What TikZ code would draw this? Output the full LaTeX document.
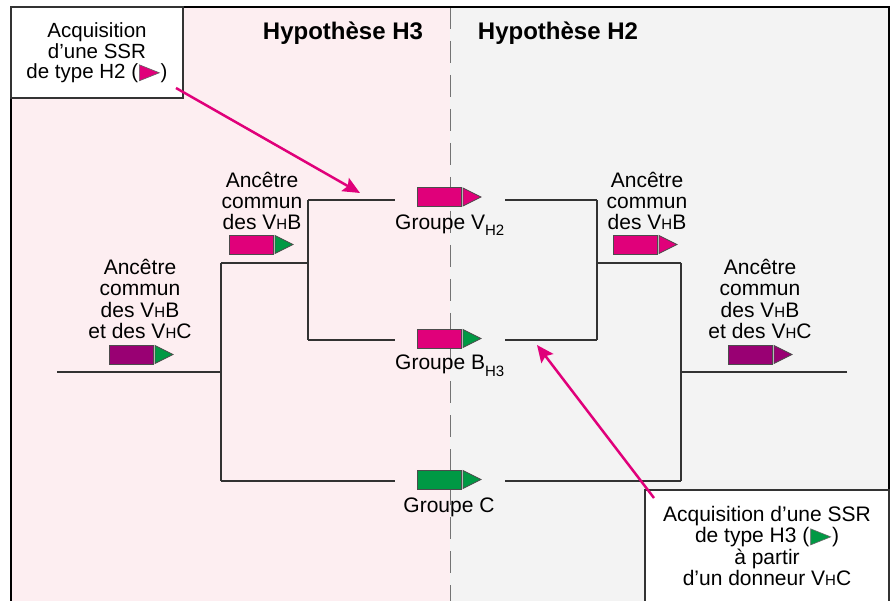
\documentclass[tikz,border=0pt]{standalone}
\usepackage{fontspec}
\setmainfont{Liberation Sans}
\usetikzlibrary{arrows.meta}
\definecolor{mag}{RGB}{224,0,122}
\definecolor{pur}{RGB}{153,0,115}
\definecolor{grn}{RGB}{0,153,68}
\definecolor{pinkbg}{RGB}{253,238,241}
\definecolor{graybg}{RGB}{243,243,243}
\definecolor{treeln}{RGB}{50,50,50}
\newcommand\smH{{\fontsize{15}{15}\selectfont H}}
\newcommand\intri[1]{\hspace{1pt}\tikz[x=1pt,y=1pt,baseline=2pt]\filldraw[fill=#1,draw=black!60,line width=0.6pt] (0,0) -- (0,16) -- (20,8) -- cycle;\hspace{1pt}}
\newcommand\gsym[4]{%
  \filldraw[fill=#3,draw=black!70,line width=0.8pt] (#1,#2-9.5) rectangle (#1+44,#2+9.5);
  \filldraw[fill=#4,draw=black!70,line width=0.8pt] (#1+46,#2-9) -- (#1+64,#2) -- (#1+46,#2+9) -- cycle;}
\tikzset{
  lbl/.style={font=\fontsize{21}{21.3}\selectfont, align=center, inner sep=0pt},
  hyp/.style={font=\fontsize{24}{24}\selectfont\bfseries, inner sep=0pt},
  tree/.style={draw=treeln, line width=1.2pt},
  frame/.style={draw=black, line width=2pt},
  infobox/.style={draw=black!80, fill=white, line width=1.5pt},
  acq/.style={draw=mag, line width=2.5pt, -{Stealth[length=17pt,width=15pt,inset=3pt]}}
}
\begin{document}
\begin{tikzpicture}[x=1pt,y=-1pt]
\useasboundingbox (0,0) rectangle (891,601);
% backgrounds
\fill[pinkbg] (11,7) rectangle (450,601);
\fill[graybg] (450,7) rectangle (889,601);
\draw[black!55, line width=1pt, dash pattern=on 22pt off 12pt] (450,7) -- (450,601);
% frame
\draw[frame] (11,601) -- (11,7) -- (889,7) -- (889,601);
% tree coordinates
\coordinate (rootL) at (57,372);
\coordinate (jL1) at (221,372);
\coordinate (jL1t) at (221,263);
\coordinate (jL1b) at (221,481);
\coordinate (jL2t) at (308,200);
\coordinate (jL2b) at (308,340);
\coordinate (endV) at (395,200);
\coordinate (endB) at (395,340);
\coordinate (endC) at (395,481);
\coordinate (rootR) at (847,372);
\coordinate (jR1t) at (681,263);
\coordinate (jR1b) at (681,481);
\coordinate (jR2t) at (597,200);
\coordinate (jR2b) at (597,340);
\coordinate (begV) at (505,200);
\coordinate (begB) at (505,340);
\coordinate (begC) at (505,481);
% left tree (H3)
\draw[tree] (rootL) -- (jL1);
\draw[tree] (jL1t) -- (jL1b);
\draw[tree] (jL1t) -- (jL2t |- jL1t);
\draw[tree] (jL2t) -- (jL2b);
\draw[tree] (jL2t) -- (endV);
\draw[tree] (jL2b) -- (endB);
\draw[tree] (jL1b) -- (endC);
% right tree (H2)
\draw[tree] (rootR) -- (jR1t |- rootR);
\draw[tree] (jR1t) -- (jR1b);
\draw[tree] (jR1t) -- (jR2t |- jR1t);
\draw[tree] (jR2t) -- (jR2b);
\draw[tree] (begV) -- (jR2t);
\draw[tree] (begB) -- (jR2b);
\draw[tree] (begC) -- (jR1b);
% gene symbols
\gsym{417}{197}{mag}{mag}
\gsym{417}{338.5}{mag}{grn}
\gsym{417}{479.5}{grn}{grn}
\gsym{229}{244.5}{mag}{grn}
\gsym{109}{354.5}{pur}{grn}
\gsym{613}{244.5}{mag}{mag}
\gsym{728}{354.5}{pur}{pur}
% titles
\node[hyp] (h3) at (343,33) {Hypothèse H3};
\node[hyp] (h2) at (558,33) {Hypothèse H2};
% labels
\node[lbl, anchor=base west] (gV) at (395,230) {Groupe V\raisebox{-6pt}{\fontsize{15}{15}\selectfont H2}};
\node[lbl, anchor=base west] (gB) at (395,370) {Groupe B\raisebox{-6pt}{\fontsize{15}{15}\selectfont H3}};
\node[lbl, anchor=base] (gC) at (449,512) {Groupe C};
\node[lbl] (aL1) at (262,201) {Ancêtre\\commun\\des V\smH B};
\node[lbl] (aL0) at (140,299) {Ancêtre\\commun\\des V\smH B\\et des V\smH C};
\node[lbl] (aR1) at (647,201) {Ancêtre\\commun\\des V\smH B};
\node[lbl] (aR0) at (760,299) {Ancêtre\\commun\\des V\smH B\\et des V\smH C};
% info boxes
\draw[infobox] (11,7) rectangle (183,98);
\node[lbl, font=\fontsize{20.5}{20.5}\selectfont] (t1) at (97,53) {Acquisition\\d’une SSR\\de type H2 (\intri{mag})};
\draw[infobox] (645,490) rectangle (889,605);
\node[lbl, font=\fontsize{21}{21.3}\selectfont] (t2) at (767,546) {Acquisition d’une SSR\\de type H3 (\intri{grn})\\à partir\\d’un donneur V\smH C};
% arrows
\coordinate (a1s) at (176,88);
\coordinate (a1e) at (360,193);
\coordinate (a2s) at (654,498);
\coordinate (a2e) at (537,345);
\draw[acq] (a1s) -- (a1e);
\draw[acq] (a2s) -- (a2e);
\end{tikzpicture}
\end{document}
